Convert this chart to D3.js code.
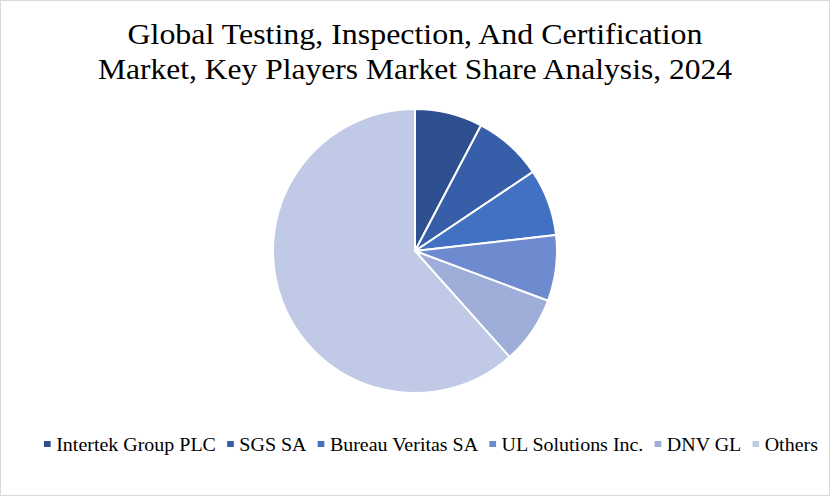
<!DOCTYPE html>
<html><head><meta charset="utf-8">
<script src="https://cdn.jsdelivr.net/npm/d3@7"></script>
<style>body{margin:0;background:#fff}</style>
</head><body>
<div id="chart"></div>
<script>
const companies = ['Intertek Group PLC', 'SGS SA', 'Bureau Veritas SA', 'UL Solutions Inc.', 'DNV GL', 'Others']
const shares = [7.7, 7.9, 7.6, 7.5, 7.7, 61.6]
const colors = ['#2f5090', '#365ea9', '#4270c2', '#6f8bcf', '#9fadd9', '#c0c9e5']

const width = 830, height = 496
const cx = 415, cy = 251, r = 142

const svg = d3.select('#chart').append('svg')
  .attr('width', width).attr('height', height)
  .style('font-family', '"Liberation Serif", "DejaVu Serif", serif')

svg.append('rect').attr('x', 0.5).attr('y', 0.5)
  .attr('width', width - 1).attr('height', height - 1)
  .attr('fill', '#fff').attr('stroke', '#d9d9d9')

const title = ['Global Testing, Inspection, And Certification', 'Market, Key Players Market Share Analysis, 2024']
const titleWidths = [575, 634]
svg.selectAll('.title').data(title).enter().append('text')
  .attr('x', width / 2).attr('y', (d, i) => 44 + i * 35)
  .attr('text-anchor', 'middle').attr('font-size', 29).attr('fill', '#000')
  .attr('textLength', (d, i) => titleWidths[i]).attr('lengthAdjust', 'spacingAndGlyphs')
  .text(d => d)

const color = d3.scaleOrdinal().domain(companies).range(colors)
const pie = d3.pie().sort(null).value(d => d.v)
const arc = d3.arc().innerRadius(0).outerRadius(r)
const data = companies.map((c, i) => ({c, v: shares[i]}))

svg.append('g').attr('transform', `translate(${cx},${cy})`)
  .selectAll('path').data(pie(data)).enter().append('path')
  .attr('d', arc).attr('fill', d => color(d.data.c))
  .attr('stroke', '#fff').attr('stroke-width', 2)

// legend, stretched to span the reference width
const legend = svg.append('g')
let x = 0
companies.forEach(c => {
  const g = legend.append('g').attr('transform', `translate(${x},0)`)
  g.append('rect').attr('x', 0).attr('y', -4).attr('width', 6).attr('height', 6).attr('fill', color(c))
  const t = g.append('text').attr('x', 11).attr('y', 6).attr('font-size', 18).attr('fill', '#000').text(c)
  x += 11 + t.node().getComputedTextLength() + 10
})
const total = x - 10
const sx = (818 - 44) / total
legend.attr('transform', `translate(44,445) scale(${sx},1)`)
</script>
</body></html>
